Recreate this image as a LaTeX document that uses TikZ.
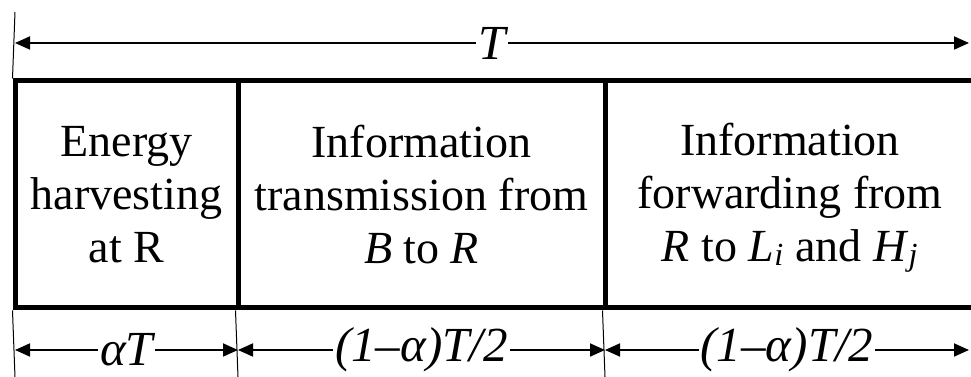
\documentclass[tikz,border=0pt]{standalone}
\usepackage{fontspec}
\setmainfont{Liberation Serif}
\usetikzlibrary{arrows.meta}
\newcommand{\sbs}[1]{\textsubscript{\smash{\textit{#1}}}}
\begin{document}
\begin{tikzpicture}[x=1pt,y=1pt,
 cell/.style={draw=black, line width=5pt, minimum height=227pt, inner sep=0pt, align=center, font=\fontsize{46}{53}\selectfont},
 dim/.style={line width=1.8pt, {Triangle[length=15pt,width=13pt]}-{Triangle[length=15pt,width=13pt]}},
 lbl/.style={fill=white, inner sep=2pt, font=\fontsize{49}{52}\selectfont\itshape},
 guide/.style={line width=1pt}]
\useasboundingbox (0,0) rectangle (971,377);
% cells
\node[cell, minimum width=223pt] (c1) at (126.5,182.5) {Energy\\harvesting\\at R};
\node[cell, minimum width=367pt] (c2) at (421.5,182.5) {Information\\transmission from\\\textit{B} to \textit{R}};
\node[cell, minimum width=370pt] (c3) at (790,182.5) {Information\\forwarding from\\\textit{R} to \textit{L}\sbs{i} and \textit{H}\sbs{j}};
% guide lines
\coordinate (g0) at (15,365);
\coordinate (g1) at (15,0);
\coordinate (g2) at (238,0);
\coordinate (g3) at (605,0);
\draw[guide] (c1.north west) -- (g0);
\draw[guide] (c1.south west) -- (g1);
\draw[guide] (c2.south west) -- (g2);
\draw[guide] (c3.south west) -- (g3);
% top dimension
\coordinate (t0) at (15,334);
\coordinate (t1) at (969,334);
\draw[dim] (t0) -- node[lbl] (tl) {T} (t1);
% bottom dimensions
\coordinate (b0) at (15,27);
\coordinate (b1) at (238,27);
\coordinate (b2) at (605,27);
\coordinate (b3) at (969,27);
\draw[dim] (b0) -- node[lbl] (l1) {αT} (b1);
\draw[dim] (b1) -- node[lbl] (l2) {(1–α)T/2} (b2);
\draw[dim] (b2) -- node[lbl] (l3) {(1–α)T/2} (b3);
\end{tikzpicture}
\end{document}
